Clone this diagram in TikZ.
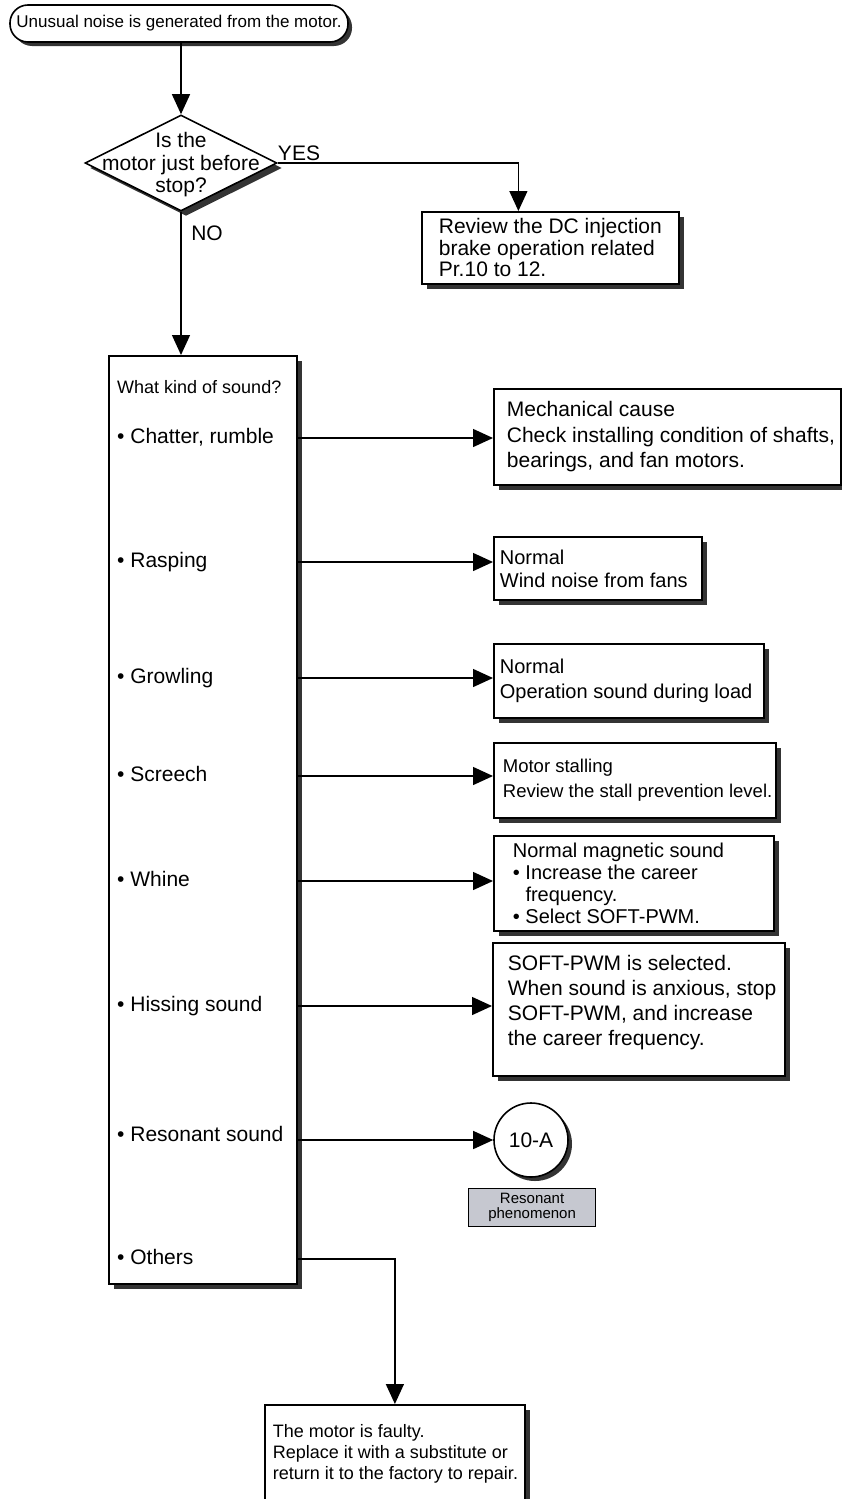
\documentclass[tikz,border=0pt]{standalone}
\usepackage{fontspec}
\setmainfont{Liberation Sans}
\usepackage{xcolor}
\usetikzlibrary{arrows.meta, positioning, shapes.geometric, shadows}

\definecolor{shadowgray}{RGB}{52,52,52}
\definecolor{notegray}{RGB}{198,200,208}
\newcommand{\fsz}[2]{\fontsize{#1}{#2}\selectfont}

\begin{document}
\begin{tikzpicture}[
    x=1pt, y=-1pt,
    castshadow/.style={drop shadow={shadow xshift=5pt, shadow yshift=-5pt, fill=shadowgray, opacity=1}},
    block/.style={
        rectangle,
        draw,
        line width=1.8pt,
        fill=white,
        castshadow,
        anchor=north west,
        inner sep=0pt,
        align=flush left
    },
    lpad/.style={execute at begin node={\leftskip=#1\relax}},
    terminal/.style={
        rectangle,
        rounded corners=18pt,
        draw,
        line width=1.6pt,
        fill=white,
        drop shadow={shadow xshift=4pt, shadow yshift=-4pt, fill=shadowgray, opacity=1},
        minimum width=338pt,
        minimum height=37pt,
        inner sep=0pt,
        font=\fsz{17}{19}
    },
    decision/.style={
        diamond,
        draw,
        line width=1.6pt,
        fill=white,
        castshadow,
        minimum width=192pt,
        minimum height=96pt,
        inner sep=0pt
    },
    marker/.style={
        circle,
        draw,
        line width=1.6pt,
        fill=white,
        drop shadow={shadow xshift=4pt, shadow yshift=-4pt, fill=shadowgray, opacity=1},
        minimum size=74pt,
        inner sep=0pt,
        font=\fsz{21}{25}
    },
    notebox/.style={
        rectangle,
        draw,
        line width=1.2pt,
        fill=notegray,
        anchor=north west,
        minimum width=127pt,
        minimum height=38pt,
        inner sep=0pt,
        align=flush center,
        font=\fsz{15}{15}
    },
    item/.style={anchor=west, inner sep=0pt, text height=15pt, text depth=4pt, font=\fsz{21}{25}},
    answer/.style={inner sep=0pt, font=\fsz{21}{25}},
    line/.style={
        draw,
        line width=1.4pt,
        -{Triangle[length=20pt, width=18pt]}
    }
]

    \useasboundingbox (0,0) rectangle (842,1499);
    \clip (0,0) rectangle (842,1499);

    \node [terminal] (noise) at (179,23.5) {Unusual noise is generated from the motor.};

    \node [decision, label={[answer, align=flush center, font=\fsz{21}{22.5}, yshift=-2pt]center:Is the\\motor just before\\stop?}] (stopq) at (181,163) {};
    \node [answer] (yes) at (299,153) {YES};
    \node [answer] (no) at (207,233) {NO};

    \node [block, text width=257pt, minimum height=72pt, lpad=17pt, font=\fsz{21}{21.5}] (review) at (421,211) {
        Review the DC injection\\brake operation related\\Pr.10 to 12.
    };

    \node [block, minimum width=188pt, minimum height=928pt] (sound) at (108,355) {};
    \node [item, font=\fsz{18}{20}] (what) at (117,388) {What kind of sound?};
    \node [item] (chatter)  at (117,438)  {• Chatter, rumble};
    \node [item] (rasping)  at (117,562)  {• Rasping};
    \node [item] (growling) at (117,678)  {• Growling};
    \node [item] (screech)  at (117,776)  {• Screech};
    \node [item] (whine)    at (117,881)  {• Whine};
    \node [item] (hissing)  at (117,1006) {• Hissing sound};
    \node [item] (resonant) at (117,1136) {• Resonant sound};
    \node [item] (others)   at (117,1259) {• Others};

    \node [block, text width=347pt, minimum height=96pt, lpad=13pt, font=\fsz{21}{25.5}] (mech) at (493,388) {
        Mechanical cause\\Check installing condition of shafts,\\bearings, and fan motors.
    };
    \node [block, text width=208pt, minimum height=63pt, lpad=6pt, font=\fsz{20}{23}] (wind) at (493,536) {
        Normal\\Wind noise from fans
    };
    \node [block, text width=270pt, minimum height=74pt, lpad=6pt, font=\fsz{20}{25}] (load) at (493,643) {
        Normal\\Operation sound during load
    };
    \node [block, text width=282pt, minimum height=75pt, lpad=9pt, font=\fsz{18.5}{25}] (stall) at (493,742) {
        Motor stalling\\Review the stall prevention level.
    };
    \node [block, text width=280pt, minimum height=95pt, lpad=19pt, font=\fsz{20}{22}] (magnetic) at (493,835) {
        Normal magnetic sound\\• Increase the career\\\hspace*{12.6pt}frequency.\\• Select SOFT-PWM.
    };
    \node [block, text width=292pt, minimum height=133pt, lpad=15pt, text depth=93pt, font=\fsz{21}{25}] (anxious) at (492,942) {
        SOFT-PWM is selected.\\When sound is anxious, stop\\SOFT-PWM, and increase\\the career frequency.
    };
    \node [marker] (tenA) at (531,1140) {10-A};
    \node [notebox] (phen) at (468,1188) {Resonant\\phenomenon};

    \node [block, text width=260pt, minimum height=112pt, lpad=8pt, text depth=60pt, font=\fsz{18}{21}] (faulty) at (264,1404) {
        The motor is faulty.\\Replace it with a substitute or\\return it to the factory to repair.
    };

    \draw [line] (noise.south -| stopq.north) -- (stopq.north);
    \draw [line] (stopq.east) -| ([xshift=-32pt]review.north);
    \draw [line] (stopq.south) -- (stopq.south |- sound.north);

    \draw [line] (sound.east |- chatter) -- (mech.west |- chatter);
    \draw [line] (sound.east |- rasping) -- (wind.west |- rasping);
    \draw [line] (sound.east |- growling) -- (load.west |- growling);
    \draw [line] (sound.east |- screech) -- (stall.west |- screech);
    \draw [line] (sound.east |- whine) -- (magnetic.west |- whine);
    \draw [line] (sound.east |- hissing) -- (anxious.west |- hissing);
    \draw [line] (sound.east |- tenA) -- (tenA.west);
    \draw [line] (sound.east |- others) -| (faulty.north);

\end{tikzpicture}
\end{document}
